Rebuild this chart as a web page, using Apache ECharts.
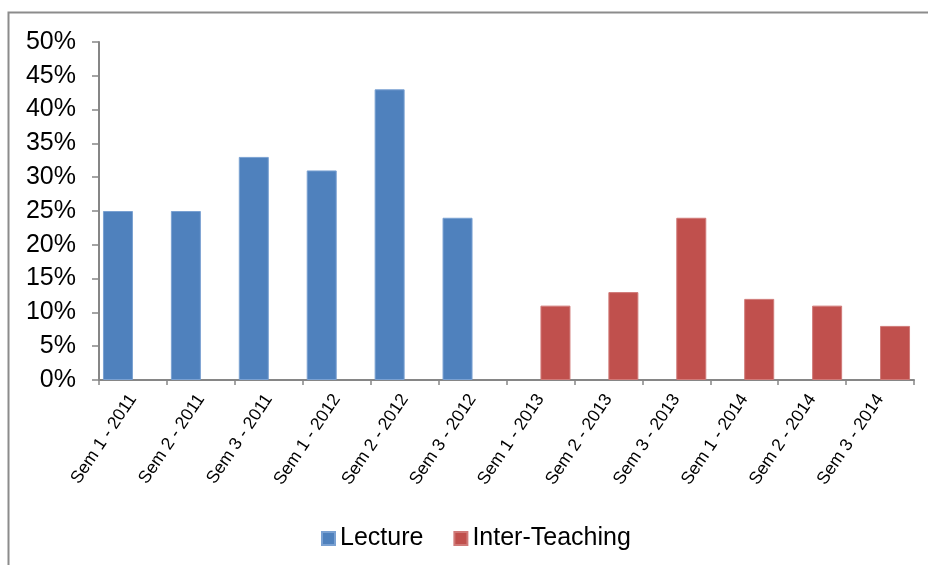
<!DOCTYPE html>
<html>
<head>
<meta charset="utf-8">
<script src="https://cdn.jsdelivr.net/npm/echarts@6/dist/echarts.min.js"></script>
<style>
  html, body { margin: 0; padding: 0; background: #fff; }
  #chart { width: 928px; height: 565px; }
</style>
</head>
<body>
<div id="chart"></div>
<script>
// Semesters on the category axis
const categories = [
  'Sem 1 - 2011', 'Sem 2 - 2011', 'Sem 3 - 2011',
  'Sem 1 - 2012', 'Sem 2 - 2012', 'Sem 3 - 2012',
  'Sem 1 - 2013', 'Sem 2 - 2013', 'Sem 3 - 2013',
  'Sem 1 - 2014', 'Sem 2 - 2014', 'Sem 3 - 2014'
];
// Percent values per semester ('-' = no bar for that method)
const lecture = [25, 25, 33, 31, 43, 24, '-', '-', '-', '-', '-', '-'];
const interTeaching = ['-', '-', '-', '-', '-', '-', 11, 13, 24, 12, 11, 8];
const yTicks = [0, 5, 10, 15, 20, 25, 30, 35, 40, 45, 50];

const chart = echarts.init(document.getElementById('chart'), null, { renderer: 'canvas' });
const axisGray = '#868686';
const font = 'Liberation Sans, Arial, sans-serif';

chart.setOption({
  animation: false,
  backgroundColor: '#fff',
  graphic: [{
    type: 'polyline',
    shape: { points: [[8.5, 565], [8.5, 12.5], [928, 12.5]] },
    style: { stroke: '#8c8c8c', lineWidth: 2, fill: null },
    silent: true
  }],
  grid: { left: 99, right: 14, top: 42, bottom: 185, containLabel: false },
  legend: {
    top: 521,
    left: 316,
    itemWidth: 13,
    itemHeight: 13,
    itemGap: 30,
    icon: 'rect',
    textStyle: { fontFamily: font, fontSize: 25, color: '#000' },
    data: ['Lecture', 'Inter-Teaching']
  },
  xAxis: {
    type: 'category',
    data: categories,
    axisLine: { lineStyle: { color: axisGray, width: 2 } },
    axisTick: { show: true, alignWithLabel: false, length: 5, lineStyle: { color: axisGray, width: 1.5 } },
    axisLabel: {
      interval: 0,
      rotate: 56,
      fontFamily: font,
      fontSize: 17.5,
      color: '#000',
      margin: 16
    },
    splitLine: { show: false }
  },
  yAxis: {
    type: 'value',
    min: yTicks[0],
    max: yTicks[yTicks.length - 1],
    interval: 5,
    axisLine: { show: true, lineStyle: { color: axisGray, width: 2 } },
    axisTick: { show: true, length: 7, lineStyle: { color: axisGray, width: 1.5 } },
    axisLabel: {
      fontFamily: font,
      fontSize: 25,
      color: '#000',
      margin: 23,
      formatter: v => v + '%'
    },
    splitLine: { show: false }
  },
  series: [
    {
      name: 'Lecture',
      type: 'bar',
      data: lecture,
      barWidth: 30,
      barGap: '0%',
      itemStyle: { color: '#4F81BD', borderColor: '#7aa1d2', borderWidth: 1 }
    },
    {
      name: 'Inter-Teaching',
      type: 'bar',
      data: interTeaching,
      barWidth: 30,
      barGap: '0%',
      itemStyle: { color: '#C0504D', borderColor: '#d07a78', borderWidth: 1 }
    }
  ]
});
</script>
</body>
</html>
